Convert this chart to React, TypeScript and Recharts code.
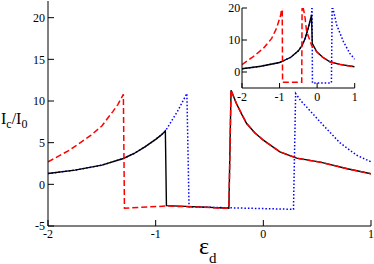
import { LineChart, Line, XAxis, YAxis, CartesianGrid } from "recharts";

// main panel
const blackX = [-2, -1.75, -1.5, -1.3, -1.2, -1.1, -1.0, -0.95, -0.91, -0.9, -0.6, -0.32, -0.3, -0.25, -0.2, -0.155, -0.08, 0, 0.154, 0.31, 0.53, 0.78, 1.0];
const blackY = [1.3, 1.7, 2.3, 3.1, 3.7, 4.5, 5.4, 5.9, 6.4, -2.55, -2.7, -2.87, 11.3, 9.7, 8.4, 7.3, 6.2, 5.3, 3.9, 3.14, 2.66, 1.87, 1.27];

const redX = [-2, -1.8, -1.6, -1.5, -1.4, -1.35, -1.3, -1.29, -0.9, -0.32, -0.3, -0.25, -0.2, -0.155, -0.08, 0, 0.154, 0.31, 0.53, 0.78, 1.0];
const redY = [2.7, 4.1, 5.9, 7.0, 8.7, 9.6, 10.8, -2.87, -2.6, -2.87, 11.3, 9.7, 8.4, 7.3, 6.2, 5.3, 3.9, 3.14, 2.66, 1.87, 1.27];

const blueX = [-2, -1.75, -1.5, -1.3, -1.2, -1.1, -1.0, -0.95, -0.91, -0.8, -0.71, -0.69, 0.28, 0.3, 0.35, 0.4, 0.556, 0.71, 0.866, 1.0];
const blueY = [1.3, 1.7, 2.3, 3.1, 3.7, 4.5, 5.4, 5.9, 6.4, 8.7, 10.9, -2.7, -3.0, 10.9, 10.0, 9.3, 7.1, 5.0, 3.5, 2.7];

// inset
const inBlackX = [-2, -1.5, -1.0, -0.7, -0.5, -0.4, -0.32, -0.24, -0.17, -0.15, -0.13, -0.01, 0.15, 0.34, 0.6, 0.96, 1.0];
const inBlackY = [1.0, 1.8, 2.95, 4.6, 6.6, 8.3, 10.5, 13.6, 16.8, 17.8, 9.0, 6.3, 4.6, 3.2, 2.4, 1.7, 1.6];

const inRedX = [-2, -1.7, -1.43, -1.21, -1.08, -0.97, -0.93, -0.92, -0.41, -0.4, -0.36, -0.32, -0.28, -0.21, -0.15, -0.01, 0.15, 0.34, 0.6, 0.96, 1.0];
const inRedY = [2.3, 4.8, 7.4, 10.5, 13.7, 17.8, 21, -3.2, -3.2, 21, 19.5, 16.8, 12.6, 10.5, 8.4, 6.3, 4.6, 3.2, 2.4, 1.7, 1.6];

const inBlueX = [-2, -1.5, -1.0, -0.7, -0.5, -0.4, -0.32, -0.24, -0.17, -0.15, -0.135, -0.125, 0.38, 0.4, 0.52, 0.7, 0.87, 1.0];
const inBlueY = [1.0, 1.8, 2.95, 4.6, 6.6, 8.3, 10.5, 13.6, 16.8, 17.8, 21, -3.4, -3.4, 21, 14.7, 9.5, 5.8, 4.0];

const xTicks = [-2, -1, 0, 1];
const yTicks = [-5, 0, 5, 10, 15, 20];
const inYTicks = [0, 10, 20];

const pts = (xs: number[], ys: number[]) => xs.map((x, i) => ({ x, y: ys[i] }));

const font = "Liberation Serif";

const BottomTick = (p: any) => (
  <text x={p.x} y={p.y} dy="0.71em" textAnchor="middle" fontFamily={font} fontSize={12} fill="#000">
    {String(p.payload.value)}
  </text>
);
const LeftTick = (p: any) => (
  <text x={p.x} y={p.y} dy="0.355em" textAnchor="end" fontFamily={font} fontSize={12} fill="#000">
    {String(p.payload.value)}
  </text>
);
const NoTick = () => <g />;

export default function App() {
  return (
    <div style={{ position: "absolute", left: 0, top: 0, width: 374, height: 264, background: "#fff" }}>
      <div style={{ position: "absolute", left: 0, top: 0 }}>
        <LineChart width={374} height={264} margin={{ top: 1, right: 3, bottom: 0, left: 0 }}>
          <XAxis xAxisId={0} type="number" dataKey="x" domain={[-2, 1]} ticks={xTicks} interval={0}
            height={38} tickSize={-6} tickMargin={9} tick={BottomTick} stroke="#000" allowDataOverflow />
          <XAxis xAxisId="t" orientation="top" type="number" dataKey="x" domain={[-2, 1]} ticks={xTicks}
            interval={0} height={0} tickSize={-6} tick={NoTick} stroke="#000" allowDataOverflow />
          <YAxis yAxisId={0} type="number" domain={[-5, 22]} ticks={yTicks} interval={0} width={48}
            tickSize={-6} tickMargin={9} tick={LeftTick} stroke="#000" allowDataOverflow />
          <YAxis yAxisId="r" orientation="right" type="number" domain={[-5, 22]} ticks={yTicks} interval={0}
            width={0} tickSize={-6} tick={NoTick} stroke="#000" allowDataOverflow />
          <Line data={pts(blueX, blueY)} dataKey="y" type="linear" stroke="#0000ff" strokeWidth={1.5}
            strokeDasharray="1.5 2" dot={false} activeDot={false} isAnimationActive={false} />
          <Line data={pts(blackX, blackY)} dataKey="y" type="linear" stroke="#000" strokeWidth={1.4}
            dot={false} activeDot={false} isAnimationActive={false} />
          <Line data={pts(redX, redY)} dataKey="y" type="linear" stroke="#ff0000" strokeWidth={1.5}
            strokeDasharray="6 3" dot={false} activeDot={false} isAnimationActive={false} />
        </LineChart>
      </div>
      <div style={{ position: "absolute", left: 200, top: 0 }}>
        <LineChart width={160} height={110} margin={{ top: 8, right: 5.3, bottom: 0, left: 0 }}>
          <CartesianGrid fill="#fff" horizontal={false} vertical={false} />
          <XAxis xAxisId={0} type="number" dataKey="x" domain={[-2, 1]} ticks={xTicks} interval={0}
            height={22} tickSize={-5} tickMargin={9.5} tick={BottomTick} stroke="#000" allowDataOverflow />
          <XAxis xAxisId="t" orientation="top" type="number" dataKey="x" domain={[-2, 1]} ticks={xTicks}
            interval={0} height={0} tickSize={-5} tick={NoTick} stroke="#000" allowDataOverflow />
          <YAxis yAxisId={0} type="number" domain={[-5, 20]} ticks={inYTicks} interval={0} width={42}
            tickSize={-5} tickMargin={6.7} tick={LeftTick} stroke="#000" allowDataOverflow />
          <YAxis yAxisId="r" orientation="right" type="number" domain={[-5, 20]} ticks={inYTicks} interval={0}
            width={0} tickSize={-5} tick={NoTick} stroke="#000" allowDataOverflow />
          <Line data={pts(inBlueX, inBlueY)} dataKey="y" type="linear" stroke="#0000ff" strokeWidth={1.5}
            strokeDasharray="1.5 2" dot={false} activeDot={false} isAnimationActive={false} />
          <Line data={pts(inBlackX, inBlackY)} dataKey="y" type="linear" stroke="#000" strokeWidth={1.4}
            dot={false} activeDot={false} isAnimationActive={false} />
          <Line data={pts(inRedX, inRedY)} dataKey="y" type="linear" stroke="#ff0000" strokeWidth={1.5}
            strokeDasharray="6 3" dot={false} activeDot={false} isAnimationActive={false} />
        </LineChart>
      </div>
      <svg width={374} height={264} style={{ position: "absolute", left: 0, top: 0, pointerEvents: "none" }}>
        <text x={1} y={124} fontFamily={font} fontSize={16} fill="#000">
          I<tspan fontSize={12} dy={4}>c</tspan>
          <tspan fontSize={16} dy={-4}>/I</tspan>
          <tspan fontSize={12} dy={4}>0</tspan>
        </text>
        <text x={199} y={253.5} fontFamily={font} fontSize={24} fill="#000">
          ε<tspan fontSize={15} dy={9}>d</tspan>
        </text>
      </svg>
    </div>
  );
}
